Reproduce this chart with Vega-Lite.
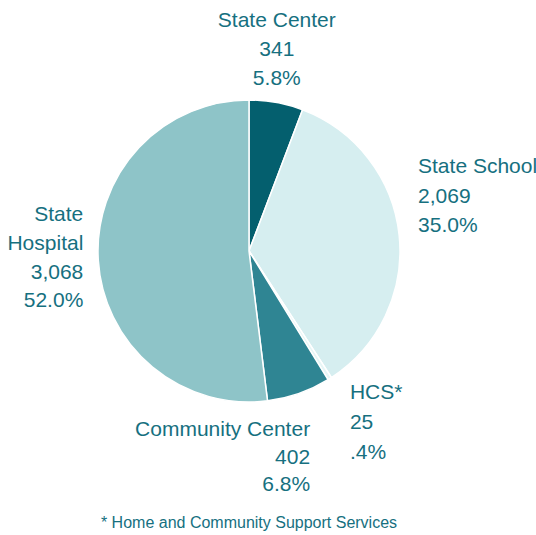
{
  "$schema": "https://vega.github.io/schema/vega-lite/v6.json",
  "width": 498,
  "height": 502,
  "autosize": "none",
  "padding": {"left": 0, "top": 0, "right": 38, "bottom": 33},
  "background": "white",
  "config": {"view": {"stroke": null}},
  "title": {
    "text": "* Home and Community Support Services",
    "orient": "bottom",
    "anchor": "middle",
    "font": "Liberation Sans",
    "fontSize": 16,
    "fontWeight": "normal",
    "color": "#16707f",
    "baseline": "middle",
    "offset": 21
  },
  "data": {
    "values": [
      {"idx": 1, "category": "State Center", "value": 341, "label": "State Center\n341\n5.8%"},
      {"idx": 2, "category": "State School", "value": 2069, "label": "State School\n2,069\n35.0%"},
      {"idx": 3, "category": "HCS*", "value": 25, "label": "HCS*\n25\n.4%"},
      {"idx": 4, "category": "Community Center", "value": 402, "label": "Community Center\n402\n6.8%"},
      {"idx": 5, "category": "State Hospital", "value": 3068, "label": "State\nHospital\n3,068\n52.0%"}
    ]
  },
  "encoding": {
    "theta": {"field": "value", "type": "quantitative", "stack": true},
    "order": {"field": "idx", "type": "quantitative"}
  },
  "layer": [
    {
      "mark": {"type": "arc", "outerRadius": 151, "stroke": "white", "strokeWidth": 1.5},
      "encoding": {
        "color": {
          "field": "category",
          "type": "nominal",
          "scale": {
            "domain": ["State Center", "State School", "HCS*", "Community Center", "State Hospital"],
            "range": ["#045f6e", "#d6eef0", "#e6f6f6", "#2f8593", "#8ec4c8"]
          },
          "legend": null
        }
      }
    },
    {
      "mark": {"type": "text", "radius": 204, "dx": -9, "dy": -29, "align": "center", "baseline": "middle", "lineBreak": "\n", "lineHeight": 29, "font": "Liberation Sans", "fontSize": 21, "color": "#16707f"},
      "encoding": {"text": {"condition": {"test": "datum.idx == 1", "field": "label", "type": "nominal"}, "value": ""}}
    },
    {
      "mark": {"type": "text", "radius": 170, "dx": 0, "dy": -65.5, "align": "left", "baseline": "middle", "lineBreak": "\n", "lineHeight": 29.5, "font": "Liberation Sans", "fontSize": 21, "color": "#16707f"},
      "encoding": {"text": {"condition": {"test": "datum.idx == 2", "field": "label", "type": "nominal"}, "value": ""}}
    },
    {
      "mark": {"type": "text", "radius": 185, "dx": 2, "dy": -14, "align": "left", "baseline": "middle", "lineBreak": "\n", "lineHeight": 30, "font": "Liberation Sans", "fontSize": 21, "color": "#16707f"},
      "encoding": {"text": {"condition": {"test": "datum.idx == 3", "field": "label", "type": "nominal"}, "value": ""}}
    },
    {
      "mark": {"type": "text", "radius": 185, "dx": 0, "dy": 4.5, "align": "right", "baseline": "middle", "lineBreak": "\n", "lineHeight": 27.5, "font": "Liberation Sans", "fontSize": 21, "color": "#16707f"},
      "encoding": {"text": {"condition": {"test": "datum.idx == 4", "field": "label", "type": "nominal"}, "value": ""}}
    },
    {
      "mark": {"type": "text", "radius": 166, "dx": 0, "dy": -46, "align": "right", "baseline": "middle", "lineBreak": "\n", "lineHeight": 28.7, "font": "Liberation Sans", "fontSize": 21, "color": "#16707f"},
      "encoding": {"text": {"condition": {"test": "datum.idx == 5", "field": "label", "type": "nominal"}, "value": ""}}
    }
  ]
}
